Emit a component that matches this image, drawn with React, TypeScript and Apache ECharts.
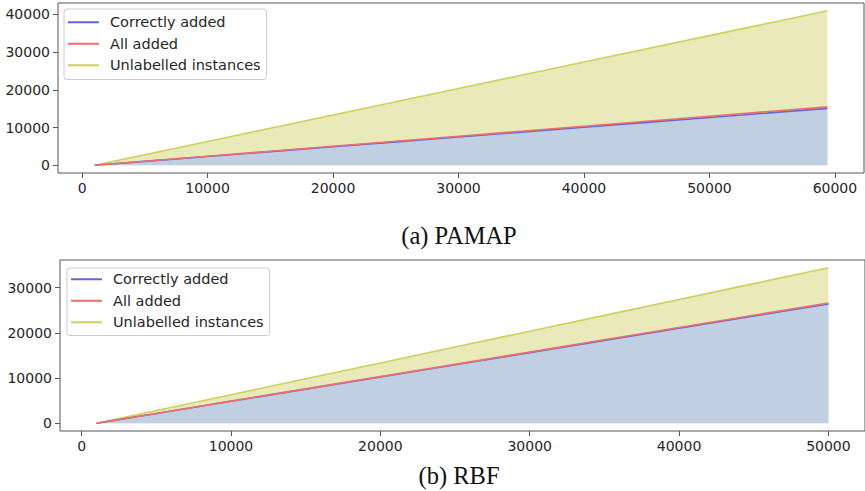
import React, { useEffect, useRef } from "react";
import * as echarts from "echarts";

// (a) PAMAP
const pamapX = [1000, 5000, 10000, 15000, 20000, 25000, 30000, 35000, 40000, 45000, 50000, 55000, 59400];
const pamapUnlabelled = [0, 2810, 6320, 9830, 13340, 16850, 20360, 23870, 27380, 30890, 34400, 37900, 41000];
const pamapAll = [0, 1060, 2390, 3720, 5040, 6370, 7700, 9020, 10350, 11680, 13000, 14330, 15500];
const pamapCorrect = [0, 1030, 2330, 3620, 4910, 6210, 7500, 8790, 10090, 11380, 12670, 13960, 15100];

// (b) RBF
const rbfX = [1000, 5000, 10000, 15000, 20000, 25000, 30000, 35000, 40000, 45000, 50000];
const rbfUnlabelled = [0, 2810, 6320, 9830, 13340, 16850, 20360, 23870, 27380, 30890, 34400];
const rbfAll = [0, 2170, 4890, 7600, 10310, 13030, 15740, 18460, 21170, 23890, 26600];
const rbfCorrect = [0, 2160, 4850, 7540, 10240, 12930, 15630, 18320, 21010, 23710, 26400];

const topXTicks = [0, 10000, 20000, 30000, 40000, 50000, 60000];
const topYTicks = [0, 10000, 20000, 30000, 40000];
const botXTicks = [0, 10000, 20000, 30000, 40000, 50000];
const botYTicks = [0, 10000, 20000, 30000];

const seriesNames = ["Correctly added", "All added", "Unlabelled instances"];
const captions = ["(a) PAMAP", "(b) RBF"];

const C_BLUE = "#6464d8";
const C_RED = "#ec6e6e";
const C_YEL = "#cfcf5a";
const F_BLUE = "#c0d0e2";
const F_YEL = "#e9e9b9";
const FRAME = "#555555";
const TXT = "#262626";

const zip = (xs: number[], ys: number[]) => xs.map((x, i) => [x, ys[i]]);

function makeAxis(idx: number, min: number, max: number, ticks: number[]) {
  return {
    type: "value",
    gridIndex: idx,
    min,
    max,
    axisLine: { show: false, onZero: false },
    splitLine: { show: false },
    axisTick: { show: true, inside: false, length: 5, lineStyle: { color: FRAME }, customValues: ticks },
    axisLabel: {
      show: true,
      customValues: ticks,
      margin: 8,
      fontSize: 14,
      color: TXT,
      fontFamily: "DejaVu Sans",
      formatter: (v: number) => String(v),
    },
  };
}

function makeSeries(idx: number, xs: number[], unl: number[], all: number[], cor: number[]) {
  return [
    {
      name: seriesNames[2],
      type: "line",
      xAxisIndex: idx,
      yAxisIndex: idx,
      data: zip(xs, unl),
      showSymbol: false,
      symbol: "none",
      color: C_YEL,
      lineStyle: { color: C_YEL, width: 1.6 },
      areaStyle: { color: F_YEL, opacity: 1 },
      z: 2,
    },
    {
      name: seriesNames[0],
      type: "line",
      xAxisIndex: idx,
      yAxisIndex: idx,
      data: zip(xs, cor),
      showSymbol: false,
      symbol: "none",
      color: C_BLUE,
      lineStyle: { color: C_BLUE, width: 1.6 },
      areaStyle: { color: F_BLUE, opacity: 1 },
      z: 3,
    },
    {
      name: seriesNames[1],
      type: "line",
      xAxisIndex: idx,
      yAxisIndex: idx,
      data: zip(xs, all),
      showSymbol: false,
      symbol: "none",
      color: C_RED,
      lineStyle: { color: C_RED, width: 1.6 },
      z: 4,
    },
  ];
}

function makeLegend(left: number, top: number, padding: number[]) {
  const colors = [C_BLUE, C_RED, C_YEL];
  return {
    orient: "vertical",
    left,
    top,
    padding,
    itemGap: 5,
    itemWidth: 31,
    itemHeight: 2,
    backgroundColor: "rgba(255,255,255,0.85)",
    borderColor: "#cccccc",
    borderWidth: 1,
    borderRadius: 3,
    selectedMode: false,
    data: seriesNames.map((n, i) => ({ name: n, icon: "rect", itemStyle: { color: colors[i] } })),
    textStyle: {
      fontSize: 14.5,
      color: TXT,
      fontFamily: "DejaVu Sans",
      lineHeight: 16.5,
      padding: [0, 0, 0, 6],
    },
  };
}

export default function App() {
  const ref = useRef<HTMLDivElement>(null);
  useEffect(() => {
    if (!ref.current) return;
    const chart = echarts.init(ref.current, null, { renderer: "svg" });
    chart.setOption({
      animation: false,
      backgroundColor: "#ffffff",
      grid: [
        { left: 58, top: 3, right: 1, height: 170, show: true, borderColor: FRAME, borderWidth: 1, backgroundColor: "transparent", z: 10 },
        { left: 60, top: 260, right: -2, height: 171, show: true, borderColor: FRAME, borderWidth: 1, backgroundColor: "transparent", z: 10 },
      ],
      xAxis: [makeAxis(0, -1920, 62320, topXTicks), makeAxis(1, -1450, 52450, botXTicks)],
      yAxis: [makeAxis(0, -2050, 43050, topYTicks), makeAxis(1, -1720, 36120, botYTicks)],
      legend: [makeLegend(64, 9, [5, 6, 6, 4]), makeLegend(67, 268, [3, 6, 5, 4])],
      series: [
        ...makeSeries(0, pamapX, pamapUnlabelled, pamapAll, pamapCorrect),
        ...makeSeries(1, rbfX, rbfUnlabelled, rbfAll, rbfCorrect),
      ],
      graphic: [
        {
          type: "text",
          x: 459,
          y: 235,
          style: {
            text: captions[0],
            fontSize: 24.5,
            fontFamily: "Liberation Serif",
            fill: "#111111",
            align: "center",
            verticalAlign: "middle",
          },
        },
        {
          type: "text",
          x: 459,
          y: 475,
          style: {
            text: captions[1],
            fontSize: 24.5,
            fontFamily: "Liberation Serif",
            fill: "#111111",
            align: "center",
            verticalAlign: "middle",
          },
        },
      ],
    });
    return () => chart.dispose();
  }, []);
  return (
    <div
      ref={ref}
      style={{ position: "absolute", left: 0, top: 0, width: 865, height: 491 }}
    />
  );
}
